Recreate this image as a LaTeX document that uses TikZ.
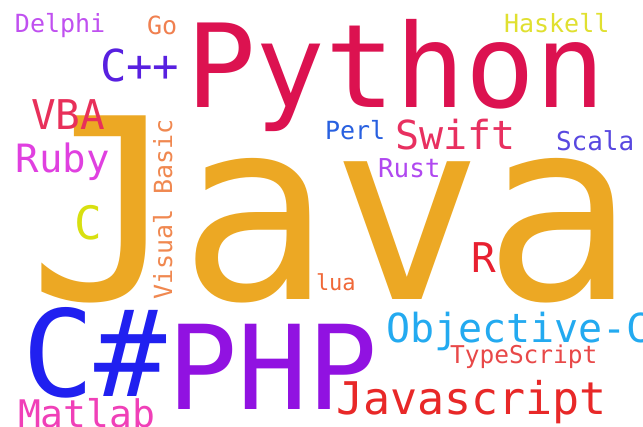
\documentclass[tikz,border=0pt]{standalone}
\usepackage{fontspec}
\setmonofont{DejaVu Sans Mono}
\definecolor{cJava}{RGB}{236,168,36}
\definecolor{cPython}{RGB}{220,18,80}
\definecolor{cCsharp}{RGB}{32,32,240}
\definecolor{cPHP}{RGB}{145,18,225}
\definecolor{cJs}{RGB}{232,40,40}
\definecolor{cObjc}{RGB}{35,170,240}
\definecolor{cSwift}{RGB}{232,48,96}
\definecolor{cVBA}{RGB}{232,48,90}
\definecolor{cRuby}{RGB}{224,64,224}
\definecolor{cCpp}{RGB}{88,32,224}
\definecolor{cMatlab}{RGB}{240,64,184}
\definecolor{cR}{RGB}{232,32,48}
\definecolor{cC}{RGB}{216,224,16}
\definecolor{cVB}{RGB}{240,136,80}
\definecolor{cLua}{RGB}{240,104,56}
\definecolor{cTS}{RGB}{232,72,72}
\definecolor{cPerl}{RGB}{40,96,224}
\definecolor{cScala}{RGB}{88,72,224}
\definecolor{cRust}{RGB}{176,72,240}
\definecolor{cHaskell}{RGB}{224,224,48}
\definecolor{cDelphi}{RGB}{192,80,240}
\definecolor{cGo}{RGB}{240,128,80}
\tikzset{word/.style={anchor=base west,inner sep=0pt,outer sep=0pt,font=\ttfamily}}
\newcommand{\fs}[1]{\fontsize{#1}{#1}\selectfont}
\begin{document}
\begin{tikzpicture}[x=1pt,y=-1pt]
\useasboundingbox[fill=white] (0,0) rectangle (643,427);
\node[word,text=cJava] (java) at (28,300) {\fs{252}Java};
\node[word,text=cPython] (python) at (186,108) {\fs{116}Python};
\node[word,text=cCsharp] (csharp) at (22,397) {\fs{120}C\#};
\node[word,text=cPHP] (php) at (167,410) {\fs{117}PHP};
\node[word,text=cJs] (js) at (336,415) {\fs{45}Javascript};
\node[word,text=cObjc] (objc) at (386,343) {\fs{40}Objective-C};
\node[word,text=cSwift] (swift) at (395,150) {\fs{40}Swift};
\node[word,text=cVBA] (vba) at (31,130) {\fs{41}VBA};
\node[word,text=cRuby] (ruby) at (16,173) {\fs{39}Ruby};
\node[word,text=cCpp] (cpp) at (100,82) {\fs{44}C++};
\node[word,text=cMatlab] (matlab) at (18,428) {\fs{38}Matlab};
\node[word,text=cR] (r) at (471,273) {\fs{41}R};
\node[word,text=cC] (c) at (74,240) {\fs{46}C};
\node[word,text=cVB,rotate=90] (vb) at (172,300) {\fs{25}Visual Basic};
\node[word,text=cLua] (lua) at (316,291) {\fs{22}lua};
\node[word,text=cTS] (ts) at (450,364) {\fs{24.5}TypeScript};
\node[word,text=cPerl] (perl) at (325,140) {\fs{25}Perl};
\node[word,text=cScala] (scala) at (556,151) {\fs{26}Scala};
\node[word,text=cRust] (rust) at (378,178) {\fs{26}Rust};
\node[word,text=cHaskell] (haskell) at (504,33) {\fs{25}Haskell};
\node[word,text=cDelphi] (delphi) at (15,33) {\fs{25}Delphi};
\node[word,text=cGo] (go) at (147,35) {\fs{25}Go};
\end{tikzpicture}
\end{document}
